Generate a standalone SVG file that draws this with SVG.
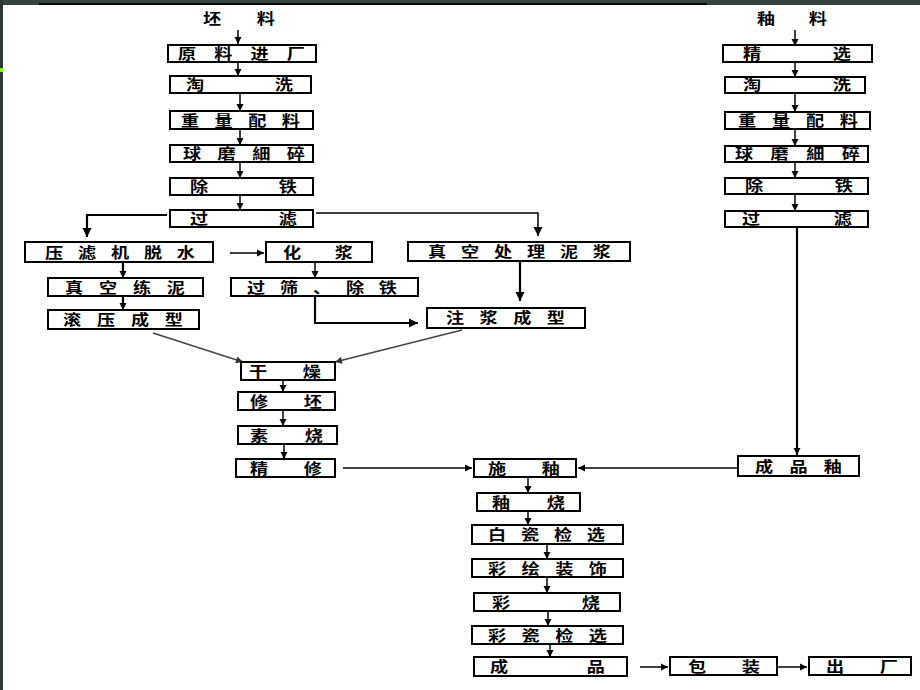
<svg xmlns="http://www.w3.org/2000/svg" width="920" height="690" viewBox="0 0 920 690">
<defs>
<style>
.b{fill:#fff;stroke:#000;stroke-width:2}
.t{font-family:"Noto Sans CJK SC","Noto Sans CJK JP",sans-serif;font-size:14.5px;font-weight:700;fill:#000}
.c{fill:none;stroke:#000;stroke-width:1.5}
.k{fill:none;stroke:#000;stroke-width:2.2}
.d{fill:none;stroke:#444;stroke-width:1.5}
</style>
<marker id="a" viewBox="0 0 10 10" refX="10" refY="5" markerWidth="7" markerHeight="8" markerUnits="userSpaceOnUse" orient="auto"><path d="M0,0L10,5L0,10z" fill="#000"/></marker>
<marker id="A" viewBox="0 0 10 10" refX="10" refY="5" markerWidth="9" markerHeight="13" markerUnits="userSpaceOnUse" orient="auto"><path d="M0,0L10,5L0,10z" fill="#000"/></marker>
<marker id="g" viewBox="0 0 10 10" refX="10" refY="5" markerWidth="10" markerHeight="7" markerUnits="userSpaceOnUse" orient="auto"><path d="M0,0L10,5L0,10z" fill="#333"/></marker>
</defs>
<rect width="920" height="690" fill="#fff"/>
<g id="frame">
<rect x="0" y="0" width="920" height="5" fill="#34433d"/>
<rect x="39" y="3" width="668" height="2" fill="#000"/>
<rect x="0" y="0" width="3" height="690" fill="#2c3833"/>
<rect x="0" y="68" width="3" height="4" fill="#80ff20"/>
</g>
<g id="connectors">
<path class="c" d="M238,30V44" marker-end="url(#a)"/>
<path class="c" d="M238,62V76" marker-end="url(#a)"/>
<path class="c" d="M240,93V111" marker-end="url(#a)"/>
<path class="c" d="M240,129V145" marker-end="url(#a)"/>
<path class="c" d="M240,162V178" marker-end="url(#a)"/>
<path class="c" d="M240,195V210" marker-end="url(#a)"/>
<path class="k" d="M167,215H87V237" marker-end="url(#A)"/>
<path class="c" d="M316,213H538V236" marker-end="url(#A)"/>
<path class="c" d="M230,253H264" marker-end="url(#a)"/>
<path class="k" d="M123,262V278" marker-end="url(#a)"/>
<path class="k" d="M123,296V310" marker-end="url(#a)"/>
<path class="c" d="M315,262V278" marker-end="url(#a)"/>
<path class="k" d="M315,296V323H418" marker-end="url(#A)"/>
<path class="k" d="M520,261V301" stroke-width="3" marker-end="url(#A)"/>
<path class="d" d="M153,333L243,362" marker-end="url(#g)"/>
<path class="d" d="M462,330L335,362" marker-end="url(#g)"/>
<path class="c" d="M283,380V392" marker-end="url(#a)"/>
<path class="c" d="M283,410V426" marker-end="url(#a)"/>
<path class="c" d="M284,444V459" marker-end="url(#a)"/>
<path class="c" d="M343,468H472" marker-end="url(#a)"/>
<path class="c" d="M738,468H578" marker-end="url(#a)"/>
<path class="c" d="M795,30V46" marker-end="url(#a)"/>
<path class="c" d="M795,62V77" marker-end="url(#a)"/>
<path class="c" d="M795,93V112" marker-end="url(#a)"/>
<path class="c" d="M795,129V146" marker-end="url(#a)"/>
<path class="c" d="M795,162V178" marker-end="url(#a)"/>
<path class="c" d="M795,194V211" marker-end="url(#a)"/>
<path class="k" d="M797,227V455" marker-end="url(#a)"/>
<path class="c" d="M528,477V493" marker-end="url(#a)"/>
<path class="c" d="M528,511V525" marker-end="url(#a)"/>
<path class="c" d="M547,544V559" marker-end="url(#a)"/>
<path class="c" d="M547,577V593" marker-end="url(#a)"/>
<path class="c" d="M548,611V626" marker-end="url(#a)"/>
<path class="c" d="M550,644V657" marker-end="url(#a)"/>
<path class="c" d="M640,667H668" marker-end="url(#a)"/>
<path class="c" d="M777,667H807" marker-end="url(#a)"/>
</g>
<g id="title-pi"><text class="t" transform="scale(1.25,1)" x="162.4" y="24.5" textLength="57.6" lengthAdjust="spacing">坯料</text></g>
<g id="n1"><rect class="b" x="168" y="45" width="148" height="17"/><text class="t" transform="scale(1.25,1)" x="142.4" y="59" textLength="101.6" lengthAdjust="spacing">原料进厂</text></g>
<g id="n2"><rect class="b" x="170" y="76" width="141" height="17"/><text class="t" transform="scale(1.25,1)" x="148.8" y="90" textLength="85.6" lengthAdjust="spacing">淘洗</text></g>
<g id="n3"><rect class="b" x="170" y="111" width="143" height="18"/><text class="t" transform="scale(1.25,1)" x="144.8" y="126" textLength="95.2" lengthAdjust="spacing">重量配料</text></g>
<g id="n4"><rect class="b" x="170" y="145" width="143" height="17"/><text class="t" transform="scale(1.25,1)" x="146.4" y="159" textLength="97.6" lengthAdjust="spacing">球磨細碎</text></g>
<g id="n5"><rect class="b" x="170" y="178" width="143" height="17"/><text class="t" transform="scale(1.25,1)" x="152" y="192" textLength="85.6" lengthAdjust="spacing">除铁</text></g>
<g id="n6"><rect class="b" x="170" y="210" width="143" height="17"/><text class="t" transform="scale(1.25,1)" x="152" y="224" textLength="85.6" lengthAdjust="spacing">过滤</text></g>
<g id="n7"><rect class="b" x="25" y="242" width="188" height="20"/><text class="t" transform="scale(1.25,1)" x="36" y="258" textLength="120" lengthAdjust="spacing">压滤机脱水</text></g>
<g id="n8"><rect class="b" x="266" y="242" width="106" height="20"/><text class="t" transform="scale(1.25,1)" x="226.4" y="258" textLength="56" lengthAdjust="spacing">化浆</text></g>
<g id="n9"><rect class="b" x="408" y="242" width="222" height="19"/><text class="t" transform="scale(1.25,1)" x="342.4" y="257" textLength="146.4" lengthAdjust="spacing">真空处理泥浆</text></g>
<g id="n10"><rect class="b" x="48" y="278" width="155" height="18"/><text class="t" transform="scale(1.25,1)" x="52" y="293" textLength="96" lengthAdjust="spacing">真空练泥</text></g>
<g id="n11"><rect class="b" x="231" y="278" width="187" height="18"/><text class="t" transform="scale(1.25,1)" x="197.6" y="293" textLength="120" lengthAdjust="spacing">过筛、除铁</text></g>
<g id="n12"><rect class="b" x="48" y="310" width="151" height="19"/><text class="t" transform="scale(1.25,1)" x="50.4" y="325" textLength="96" lengthAdjust="spacing">滚压成型</text></g>
<g id="n13"><rect class="b" x="427" y="308" width="158" height="20"/><text class="t" transform="scale(1.25,1)" x="356.8" y="323.5" textLength="95.2" lengthAdjust="spacing">注浆成型</text></g>
<g id="n14"><rect class="b" x="241" y="362" width="94" height="18"/><text class="t" transform="scale(1.25,1)" x="199.2" y="377" textLength="57.6" lengthAdjust="spacing">干燥</text></g>
<g id="n15"><rect class="b" x="238" y="392" width="97" height="18"/><text class="t" transform="scale(1.25,1)" x="200" y="407" textLength="57.6" lengthAdjust="spacing">修坯</text></g>
<g id="n16"><rect class="b" x="238" y="426" width="99" height="18"/><text class="t" transform="scale(1.25,1)" x="200" y="441" textLength="58.4" lengthAdjust="spacing">素烧</text></g>
<g id="n17"><rect class="b" x="236" y="459" width="99" height="18"/><text class="t" transform="scale(1.25,1)" x="200" y="474" textLength="57.6" lengthAdjust="spacing">精修</text></g>
<g id="n18"><rect class="b" x="474" y="459" width="102" height="18"/><text class="t" transform="scale(1.25,1)" x="390.4" y="474" textLength="57.6" lengthAdjust="spacing">施釉</text></g>
<g id="n19"><rect class="b" x="738" y="456" width="121" height="20"/><text class="t" transform="scale(1.25,1)" x="604" y="472" textLength="69.6" lengthAdjust="spacing">成品釉</text></g>
<g id="title-you"><text class="t" transform="scale(1.25,1)" x="605.6" y="24.5" textLength="56" lengthAdjust="spacing">釉料</text></g>
<g id="r1"><rect class="b" x="723" y="45" width="149" height="17"/><text class="t" transform="scale(1.25,1)" x="594.4" y="59" textLength="86.4" lengthAdjust="spacing">精选</text></g>
<g id="r2"><rect class="b" x="725" y="77" width="140" height="16"/><text class="t" transform="scale(1.25,1)" x="594.4" y="90" textLength="86.4" lengthAdjust="spacing">淘洗</text></g>
<g id="r3"><rect class="b" x="725" y="112" width="145" height="17"/><text class="t" transform="scale(1.25,1)" x="590.4" y="126" textLength="96" lengthAdjust="spacing">重量配料</text></g>
<g id="r4"><rect class="b" x="725" y="146" width="143" height="16"/><text class="t" transform="scale(1.25,1)" x="588" y="159" textLength="100" lengthAdjust="spacing">球磨細碎</text></g>
<g id="r5"><rect class="b" x="725" y="178" width="143" height="16"/><text class="t" transform="scale(1.25,1)" x="596" y="191" textLength="86.4" lengthAdjust="spacing">除铁</text></g>
<g id="r6"><rect class="b" x="725" y="211" width="143" height="16"/><text class="t" transform="scale(1.25,1)" x="593.6" y="224" textLength="88" lengthAdjust="spacing">过滤</text></g>
<g id="m1"><rect class="b" x="477" y="493" width="103" height="18"/><text class="t" transform="scale(1.25,1)" x="393.6" y="508" textLength="58.4" lengthAdjust="spacing">釉烧</text></g>
<g id="m2"><rect class="b" x="472" y="525" width="151" height="19"/><text class="t" transform="scale(1.25,1)" x="390.4" y="540" textLength="93.6" lengthAdjust="spacing">白瓷检选</text></g>
<g id="m3"><rect class="b" x="472" y="559" width="151" height="18"/><text class="t" transform="scale(1.25,1)" x="390.4" y="574" textLength="95.2" lengthAdjust="spacing">彩绘装饰</text></g>
<g id="m4"><rect class="b" x="474" y="593" width="146" height="18"/><text class="t" transform="scale(1.25,1)" x="393.6" y="608" textLength="86.4" lengthAdjust="spacing">彩烧</text></g>
<g id="m5"><rect class="b" x="472" y="626" width="151" height="18"/><text class="t" transform="scale(1.25,1)" x="390.4" y="641" textLength="95.2" lengthAdjust="spacing">彩瓷检选</text></g>
<g id="m6"><rect class="b" x="474" y="657" width="153" height="19"/><text class="t" transform="scale(1.25,1)" x="392" y="672" textLength="92" lengthAdjust="spacing">成品</text></g>
<g id="m7"><rect class="b" x="670" y="657" width="107" height="18"/><text class="t" transform="scale(1.25,1)" x="550.4" y="672" textLength="57.6" lengthAdjust="spacing">包装</text></g>
<g id="m8"><rect class="b" x="809" y="657" width="102" height="18"/><text class="t" transform="scale(1.25,1)" x="660.8" y="672" textLength="57.6" lengthAdjust="spacing">出厂</text></g>
</svg>
